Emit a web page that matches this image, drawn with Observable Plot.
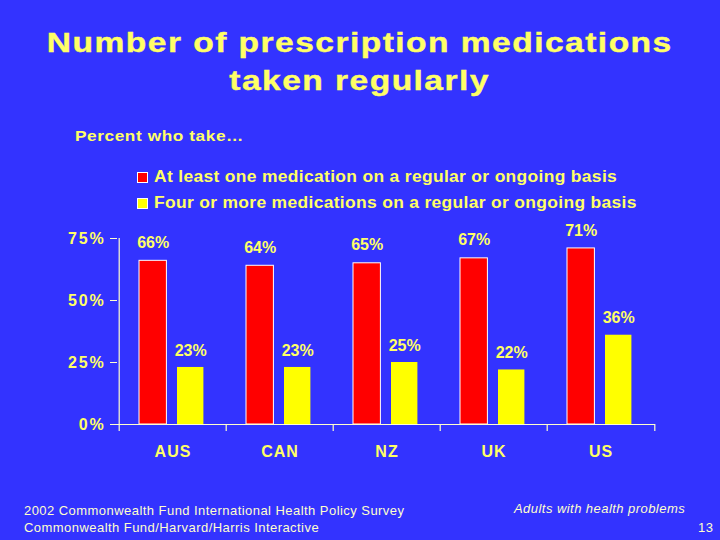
<!DOCTYPE html>
<html>
<head>
<meta charset="utf-8">
<script src="https://cdn.jsdelivr.net/npm/d3@7"></script>
<script src="https://cdn.jsdelivr.net/npm/@observablehq/plot@0.6"></script>
<style>
  html, body { margin: 0; padding: 0; }
  body { width: 720px; height: 540px; background: #3333ff; position: relative; overflow: hidden;
         font-family: "Liberation Sans", Arial, sans-serif; }
  .title { position: absolute; top: 24px; left: 0; width: 720px; text-align: center; color: #ffff66;
           font-weight: bold; font-size: 28px; line-height: 38px; letter-spacing: 1.2px; -webkit-text-stroke: 0.4px #ffff66; }
  .title span { display: inline-block; transform: scaleX(1.2); transform-origin: center; white-space: nowrap; }
  .sub { position: absolute; left: 75px; top: 127px; color: #ffff66; font-weight: bold; font-size: 15px; letter-spacing: 0.5px;
         transform: scaleX(1.15); transform-origin: left; white-space: nowrap; }
  .legend { position: absolute; left: 137px; top: 164px; color: #ffff66; font-weight: bold; font-size: 16px; letter-spacing: 0.3px; }
  .legend div { height: 26px; line-height: 20px; display: flex; align-items: center; white-space: nowrap; }
  .legend .lt { display: inline-block; transform: scaleX(1.09); transform-origin: left; }
  .sw { display: inline-block; width: 11px; height: 11px; margin-right: 6px; box-sizing: border-box; }
  .foot { position: absolute; color: #ffffcc; font-size: 13px; letter-spacing: 0.45px; }
  #chart { position: absolute; left: 0; top: 210px; }
  #chart svg g[aria-label="y-axis tick label"] text { letter-spacing: 1.8px; }
  #chart svg g[aria-label="x-axis tick label"] text { letter-spacing: 1px; }
</style>
</head>
<body>
<div class="title"><span>Number of prescription medications</span><br><span>taken regularly</span></div>
<div class="sub">Percent who take…</div>
<div class="legend" id="legend"></div>
<div id="chart"></div>
<div class="foot" style="left:24px; top:502px; line-height:17px;">2002 Commonwealth Fund International Health Policy Survey<br>Commonwealth Fund/Harvard/Harris Interactive</div>
<div class="foot" style="left:514px; top:501px; font-style:italic;">Adults with health problems</div>
<div class="foot" style="left:698px; top:520px;">13</div>
<script>
const countries = ["AUS", "CAN", "NZ", "UK", "US"];
const atLeastOne = [66, 64, 65, 67, 71];
const fourOrMore = [23, 23, 25, 22, 36];
const seriesNames = ["At least one medication on a regular or ongoing basis", "Four or more medications on a regular or ongoing basis"];
const seriesColors = ["#ff0000", "#ffff00"];
const yTicks = [0, 25, 50, 75];

const rows = countries.map((c, i) => ({country: c, one: atLeastOne[i], four: fourOrMore[i]}));

// legend
const leg = document.getElementById("legend");
seriesNames.forEach((n, i) => {
  const d = document.createElement("div");
  d.innerHTML = `<span class="sw" style="background:${seriesColors[i]};border:1px solid #ffffff"></span><span class="lt">${n}</span>`;
  leg.appendChild(d);
});

const bw = (655 - 117) / countries.length;
const textColor = "#ffff66";
const lineColor = "#ffffcc";

const chart = Plot.plot({
  width: 720,
  height: 260,
  marginLeft: 117,
  marginRight: 65,
  marginTop: 28,
  marginBottom: 46,
  style: {background: "transparent", fontFamily: "'Liberation Sans', Arial, sans-serif", overflow: "visible"},
  x: {domain: countries, padding: 0, axis: null},
  y: {domain: [0, 75], axis: null},
  marks: [
    Plot.barY(rows, {x: "country", y: "one", fill: seriesColors[0], stroke: "#ffffff", strokeWidth: 1,
      insetLeft: 20, insetRight: bw - 48}),
    Plot.barY(rows, {x: "country", y: "four", fill: seriesColors[1],
      insetLeft: 58, insetRight: bw - 85}),
    Plot.text(rows, {x: "country", y: "one", text: d => d.one + "%", dx: 34 - bw / 2, dy: -18,
      fill: textColor, fontSize: 16, fontWeight: "bold"}),
    Plot.text(rows, {x: "country", y: "four", text: d => d.four + "%", dx: 71.5 - bw / 2, dy: -17,
      fill: textColor, fontSize: 16, fontWeight: "bold"}),
    Plot.ruleY([0], {stroke: lineColor, strokeWidth: 1.2}),
    Plot.ruleX(countries.slice(0, 1), {x: d => d, dx: -bw / 2, y1: 0, y2: 75, stroke: lineColor, strokeWidth: 1.2}),
    Plot.ruleX(countries, {x: d => d, dx: -bw / 2, y1: 0, y2: 0, insetBottom: -7, stroke: lineColor, strokeWidth: 1.2}),
    Plot.ruleX(countries.slice(-1), {x: d => d, dx: bw / 2, y1: 0, y2: 0, insetBottom: -7, stroke: lineColor, strokeWidth: 1.2}),
    Plot.axisY({ticks: yTicks, tickFormat: d => d + "%", tickSize: 7, tickPadding: 5, label: null,
      fontSize: 16, fontWeight: "bold", color: textColor, stroke: lineColor}),
    Plot.axisX({tickSize: 0, tickPadding: 21, label: null, fontSize: 16, fontWeight: "bold", color: textColor})
  ]
});
document.getElementById("chart").appendChild(chart);
</script>
</body>
</html>
